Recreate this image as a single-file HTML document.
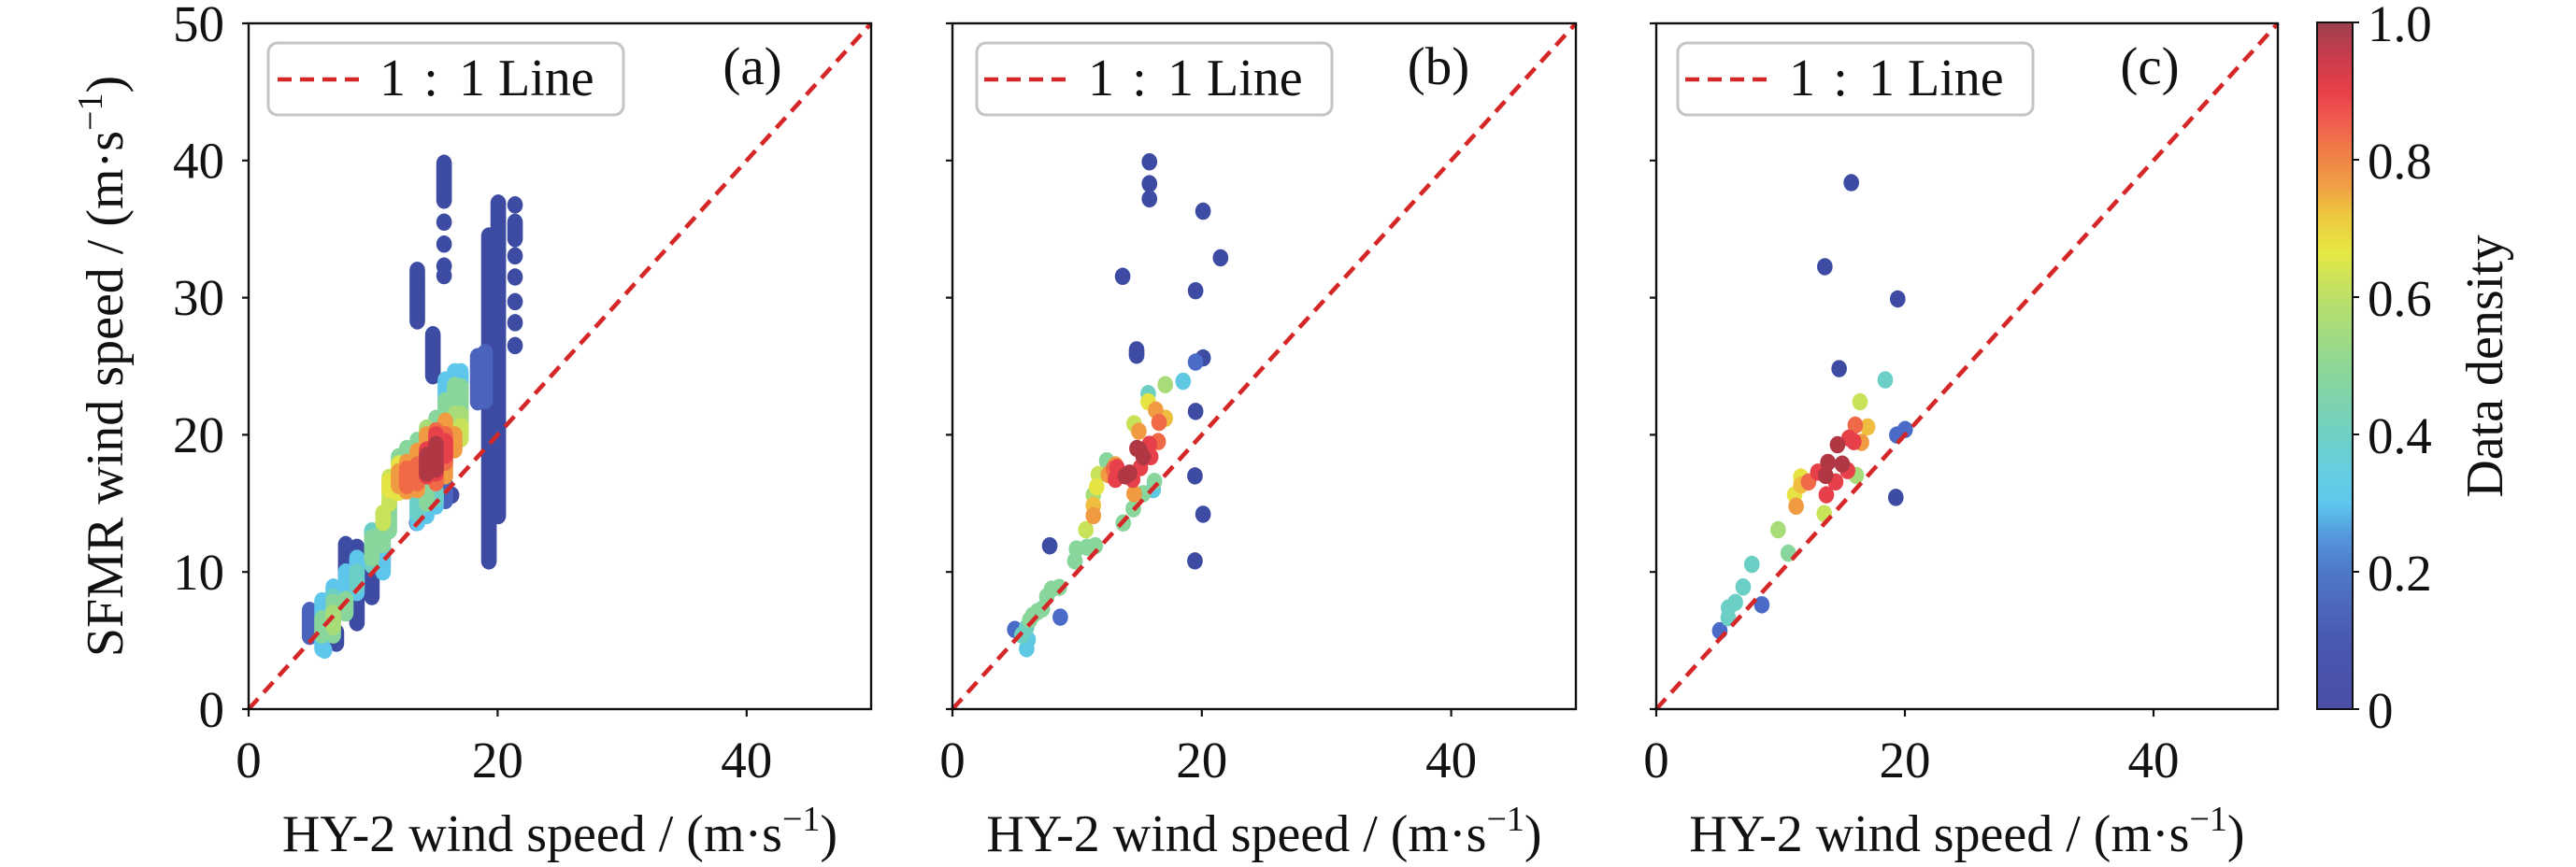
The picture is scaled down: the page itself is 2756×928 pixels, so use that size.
<!DOCTYPE html>
<html><head><meta charset="utf-8"><style>
html,body{margin:0;padding:0;background:#fff;}
svg{display:block;}
text{font-family:"Liberation Serif","Noto Serif CJK SC",serif;fill:#111;}
</style></head><body>
<svg width="2756" height="928" viewBox="0 0 2756 928" xmlns="http://www.w3.org/2000/svg">
<defs>
<linearGradient id="cb" x1="0" y1="1" x2="0" y2="0">
<stop offset="0" stop-color="#4a4ea6"/>
<stop offset="0.1" stop-color="#4a58b0"/>
<stop offset="0.2" stop-color="#4e78c8"/>
<stop offset="0.25" stop-color="#5496dc"/>
<stop offset="0.3" stop-color="#5ec8ee"/>
<stop offset="0.35" stop-color="#66cede"/>
<stop offset="0.4" stop-color="#70d0c4"/>
<stop offset="0.5" stop-color="#8ed796"/>
<stop offset="0.6" stop-color="#bce068"/>
<stop offset="0.665" stop-color="#e6e844"/>
<stop offset="0.72" stop-color="#eec840"/>
<stop offset="0.76" stop-color="#f0a044"/>
<stop offset="0.82" stop-color="#f07848"/>
<stop offset="0.86" stop-color="#f05a50"/>
<stop offset="0.9" stop-color="#e84048"/>
<stop offset="0.95" stop-color="#c83c4c"/>
<stop offset="1" stop-color="#9c4050"/>
</linearGradient>
</defs>
<rect x="0" y="0" width="2756" height="928" fill="#fff"/>

<!-- ============ PANEL A scatter ============ -->
<g transform="translate(266,759) scale(13.32,-14.68)" fill="none" stroke-width="1.25" stroke-linecap="round">
<path stroke="#3d4ba3" d="M15.7 37.1V39.8M13.55 28.3V32M14.8 24.3V27.3M19.3 10.8V34.5M20.05 14.1V36.9M7.8 9.5V12M8.7 6.3V11.8M9.9 8.2V10M7.05 4.8V5.6M15.7 35.5v.01M15.7 33.9v.01M15.7 32.3v.01M15.7 31.6v.01M21.4 36.76v.01M21.4 34.3V35.5M21.4 33.04v.01M21.4 31.5v.01M21.4 29.7v.01M21.4 28.17v.01M21.4 26.5v.01M15.5 15.4v.01M16.3 15.6v.01M13.5 13.6v.01"/>
<path stroke="#4a64be" d="M18.4 22.4V25.7M4.9 5.3V7.2M15.8 15.2V16.4M19 22.5V26"/>
<path stroke="#5ec6ea" d="M5.9 4.4V7.9M7.8 7.4V10M8.7 8.5V11M10.8 10V12M13.55 13.6V15.1M14.3 14.1V14.8M15.05 14.8V15.6M15.8 22.3V24M16.55 23.8V24.6M17.05 23.8V24.6M6.8 8V8.9M6.1 4.3v.01"/>
<path stroke="#6ccfc6" d="M9.9 10.5V13M6.8 6.5V8.2M13.55 14.3V15.1M15.05 15.3V15.9M8.7 9V10"/>
<path stroke="#88d69c" d="M5.9 5.4V6.6M6.8 5.4V7.8M7.8 7V8M10.8 12V13.5M11.3 13V15M14.3 15V16.5M15.05 20.5V21.2M15.8 21V22.5M16.55 21.5V23.6M17.05 21.5V23.5M12.7 18.5V19M13.55 18.9V19.6M12.05 17.8V18.4M9.9 11V12.5"/>
<path stroke="#a8dc78" d="M16.55 20.5V21.5M17.05 20.5V21.5M14.3 20V20.5M6.8 6V7"/>
<path stroke="#c8e25a" d="M11.3 15V16.9M10.8 13.6V14.3M17.05 19.7V20.6M16.55 19V20.3M12.05 17.4V17.9"/>
<path stroke="#e6e444" d="M12.05 15.8V17.8M11.3 16V16.6"/>
<path stroke="#f09a42" d="M12.7 15.9V18M13.55 16V18.8M14.3 17V20M15.8 17V21M12.05 16.3V17.3M16.55 18.9V20"/>
<path stroke="#f06a48" d="M12.7 16.3V17.5M13.55 16.5V17.8M15.05 16.5V20.3M15.8 18V20"/>
<path stroke="#e8404a" d="M14.3 17V18.9M15.05 17.2V20M15.8 18.5V19.5"/>
<path stroke="#b03844" d="M14.3 17.2V18.5M15.05 17.5V19.3"/>
</g>

<!-- ============ PANEL B scatter ============ -->
<g transform="translate(1019,759) scale(13.34,-14.68)" fill="none" stroke-width="1.25" stroke-linecap="round">
<path stroke="#3d4ba3" d="M15.8 39.9v.01M15.8 38.3v.01M15.8 37.2v.01M20.1 36.3v.01M21.5 32.9v.01M13.65 31.55v.01M19.5 30.5v.01M14.77 25.8V26.2M20.1 25.6v.01M19.5 21.7v.01M19.45 17v.01M20.1 14.2v.01M19.45 10.8v.01M7.8 11.9v.01"/>
<path stroke="#4a6cc8" d="M19.5 25.3v.01M8.65 6.7v.01M5 5.8v.01"/>
<path stroke="#5ec8e2" d="M18.5 23.9v.01M5.95 4.4v.01M16.1 16v.01M6.07 5.06v.01"/>
<path stroke="#6ccfc0" d="M15.7 23v.01M5.95 5.95v.01M5.57 5.4v.01"/>
<path stroke="#88d69c" d="M12.37 18.1v.01M15.3 15.7v.01M16.2 16.6v.01M14.5 14.6v.01M13.7 13.57v.01M9.95 11.67v.01M10.8 11.8v.01M11.45 11.9v.01M9.82 10.8v.01M7.95 8.74v.01M8.57 8.87v.01M7.57 8.2v.01M6.82 7.1v.01M6.45 6.84v.01M6.2 6.5v.01M7.2 7.3v.01"/>
<path stroke="#a8dc78" d="M17.07 23.65v.01M11.3 15.6v.01"/>
<path stroke="#c8e25a" d="M14.57 20.8v.01M11.7 17.1v.01M10.7 13.07v.01"/>
<path stroke="#e6e444" d="M15.7 22.4v.01M11.57 16.2v.01"/>
<path stroke="#efbe40" d="M17.07 21.2v.01M11.3 14.85v.01"/>
<path stroke="#f09a42" d="M16.3 21.8v.01M14.95 20.26v.01M12.5 17.1v.01M13.07 17.8v.01M11.3 14.1v.01M14.57 15.7v.01"/>
<path stroke="#f06a48" d="M16.57 20.9v.01M16.5 19.5v.01M12.9 17.5v.01"/>
<path stroke="#e8404a" d="M15.8 19.3v.01M15.07 17.6v.01M13.2 17.6v.01M13.07 16.75v.01M14.45 16.75v.01M15.9 18.4v.01"/>
<path stroke="#b03844" d="M14.8 19v.01M15.3 18.4v.01M13.87 17v.01M14.2 17.2v.01M15 18.9v.01"/>
</g>

<!-- ============ PANEL C scatter ============ -->
<g transform="translate(1772,759) scale(13.3,-14.68)" fill="none" stroke-width="1.25" stroke-linecap="round">
<path stroke="#3d4ba3" d="M15.69 38.38v.01M13.56 32.25v.01M19.42 29.9v.01M14.71 24.82v.01M19.27 15.43v.01"/>
<path stroke="#4a6cc8" d="M20.02 20.38v.01M19.35 19.98v.01M8.49 7.6v.01M5.11 5.71v.01"/>
<path stroke="#6ccfc6" d="M18.42 24v.01M7.69 10.55v.01M6.99 8.9v.01M6.36 7.77v.01M5.81 7.37v.01M5.79 6.66v.01"/>
<path stroke="#88d69c" d="M10.62 11.37v.01"/>
<path stroke="#a8dc78" d="M16.09 17.03v.01M9.8 13.07v.01"/>
<path stroke="#c8e25a" d="M16.39 22.4v.01M13.51 14.25v.01"/>
<path stroke="#e6e444" d="M11.63 16.92v.01M11.13 15.62v.01"/>
<path stroke="#efbe40" d="M11.63 16.33v.01M17 20.57v.01"/>
<path stroke="#f09a42" d="M11.25 14.79v.01M16.51 19.44v.01"/>
<path stroke="#f06a48" d="M16.01 20.7v.01M12.25 16.56v.01"/>
<path stroke="#e8404a" d="M15.51 19.75v.01M15.89 19.5v.01M15.39 17.39v.01M13 17.27v.01M14.43 16.56v.01M13.68 15.62v.01"/>
<path stroke="#b03844" d="M14.58 19.27v.01M13.81 17.98v.01M14.96 17.86v.01M13.63 17.03v.01"/>
</g>

<!-- 1:1 lines -->
<g stroke="#d62728" stroke-width="4.6" stroke-dasharray="15 9" fill="none">
<line x1="266" y1="759" x2="932" y2="25"/>
<line x1="1019" y1="759" x2="1686" y2="25"/>
<line x1="1772" y1="759" x2="2437" y2="25"/>
</g>

<!-- axes frames -->
<g fill="none" stroke="#111" stroke-width="2.4">
<rect x="266" y="25" width="666" height="734"/>
<rect x="1019" y="25" width="667" height="734"/>
<rect x="1772" y="25" width="665" height="734"/>
</g>

<!-- ticks -->
<g stroke="#111" stroke-width="2.2">
<path d="M259 759H266M259 612.2H266M259 465.4H266M259 318.6H266M259 171.8H266M259 25H266"/>
<path d="M1012 759H1019M1012 612.2H1019M1012 465.4H1019M1012 318.6H1019M1012 171.8H1019M1012 25H1019"/>
<path d="M1765 759H1772M1765 612.2H1772M1765 465.4H1772M1765 318.6H1772M1765 171.8H1772M1765 25H1772"/>
<path d="M266 759V767M532.4 759V767M798.8 759V767"/>
<path d="M1019 759V767M1285.8 759V767M1552.6 759V767"/>
<path d="M1772 759V767M2038 759V767M2304 759V767"/>
</g>

<!-- y tick labels -->
<g font-size="55" text-anchor="end">
<text x="240" y="778">0</text>
<text x="240" y="631">10</text>
<text x="240" y="484">20</text>
<text x="240" y="337">30</text>
<text x="240" y="190.5">40</text>
<text x="240" y="44">50</text>
</g>

<!-- x tick labels -->
<g font-size="55" text-anchor="middle">
<text x="266" y="832">0</text><text x="532.4" y="832">20</text><text x="798.8" y="832">40</text>
<text x="1019" y="832">0</text><text x="1285.8" y="832">20</text><text x="1552.6" y="832">40</text>
<text x="1772" y="832">0</text><text x="2038" y="832">20</text><text x="2304" y="832">40</text>
</g>

<!-- x labels -->
<g font-size="56" text-anchor="middle">
<text x="599" y="911">HY-2 wind speed / (m·s<tspan dy="-22" font-size="38">−1</tspan><tspan dy="22">)</tspan></text>
<text x="1352.5" y="911">HY-2 wind speed / (m·s<tspan dy="-22" font-size="38">−1</tspan><tspan dy="22">)</tspan></text>
<text x="2104.5" y="911">HY-2 wind speed / (m·s<tspan dy="-22" font-size="38">−1</tspan><tspan dy="22">)</tspan></text>
</g>

<!-- y label -->
<text font-size="56" text-anchor="middle" transform="translate(131,392) rotate(-90)">SFMR wind speed / (m·s<tspan dy="-22" font-size="38">−1</tspan><tspan dy="22">)</tspan></text>

<!-- legends -->
<g fill="#fff" stroke="#c4c4c4" stroke-width="3">
<rect x="287" y="46" width="380" height="77" rx="10" ry="10"/>
<rect x="1045" y="46" width="380" height="77" rx="10" ry="10"/>
<rect x="1795" y="46" width="380" height="77" rx="10" ry="10"/>
</g>
<g stroke="#d62728" stroke-width="4.6" stroke-dasharray="15 9">
<line x1="297" y1="85" x2="384" y2="85"/>
<line x1="1053" y1="85" x2="1142" y2="85"/>
<line x1="1803" y1="85" x2="1892" y2="85"/>
</g>
<g font-size="56">
<text x="406" y="102">1</text><text x="461" y="102" text-anchor="middle">:</text><text x="491" y="102">1 Line</text>
<text x="1164" y="102">1</text><text x="1219" y="102" text-anchor="middle">:</text><text x="1249" y="102">1 Line</text>
<text x="1914" y="102">1</text><text x="1969" y="102" text-anchor="middle">:</text><text x="1999" y="102">1 Line</text>
</g>

<!-- panel labels -->
<g font-size="57" text-anchor="middle">
<text x="805" y="90">(a)</text>
<text x="1539" y="90">(b)</text>
<text x="2300" y="90">(c)</text>
</g>

<!-- colorbar -->
<rect x="2479" y="24" width="38" height="735" fill="url(#cb)" stroke="#111" stroke-width="2"/>
<g stroke="#111" stroke-width="2">
<path d="M2517 759H2524M2517 612H2524M2517 465H2524M2517 318H2524M2517 171H2524M2517 24H2524"/>
</g>
<g font-size="55">
<text x="2533" y="779">0</text>
<text x="2533" y="632">0.2</text>
<text x="2533" y="485">0.4</text>
<text x="2533" y="338">0.6</text>
<text x="2533" y="191">0.8</text>
<text x="2533" y="44">1.0</text>
</g>
<text font-size="56" text-anchor="middle" transform="translate(2677,392) rotate(-90)">Data density</text>
</svg>
</body></html>
